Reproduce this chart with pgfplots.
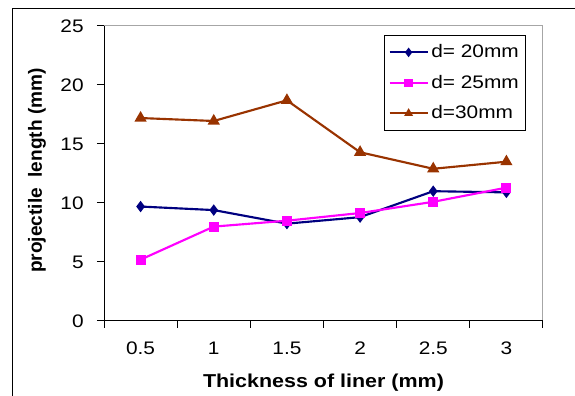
\documentclass[border=0pt]{standalone}
\usepackage{pgfplots}
\pgfplotsset{compat=1.18}
\usepackage{fontspec}
\setmainfont{Liberation Sans}[FakeStretch=1.15]
\newfontfamily\yfont{Liberation Sans}
\definecolor{c20}{RGB}{0,0,128}
\definecolor{c25}{RGB}{255,0,255}
\definecolor{c30}{RGB}{153,51,0}
\begin{document}
\begin{tikzpicture}
\begin{axis}[
  at={(78pt,56.25pt)}, anchor=south west,
  scale only axis, width=329.25pt, height=221.25pt,
  xmin=0, xmax=6, ymin=0, ymax=25,
  xtick={0.5,1.5,2.5,3.5,4.5,5.5},
  xticklabels={0.5,1,1.5,2,2.5,3},
  minor xtick={0,1,2,3,4,5,6},
  ytick={0,5,10,15,20,25},
  xtick pos=bottom, ytick pos=left,
  tick align=outside,
  major tick length=5.25pt, minor tick length=5.25pt,
  major x tick style={draw=none},
  tick style={black, line width=0.75pt},
  axis line style={draw=gray!70, line width=0.75pt},
  /pgf/number format/assume math mode=true,
  font=\fontsize{13.6}{16}\selectfont,
  xticklabel style={yshift=-7pt},
  yticklabel style={xshift=-6.5pt},
  xlabel={\bfseries Thickness of liner (mm)},
  ylabel={\yfont\bfseries projectile\ \ length (mm)},
  xlabel style={at={(axis description cs:0.5,-0.227)}, anchor=base, font=\fontsize{14}{16}\selectfont},
  ylabel style={at={(axis description cs:-0.1526,0.51)}, anchor=center, font=\fontsize{14.3}{16}\selectfont},
  legend style={at={(axis description cs:0.638,0.9695)}, anchor=north west, draw=black, line width=0.75pt, font=\fontsize{13.6}{16}\selectfont, row sep=7.5pt, inner sep=3pt, inner ysep=5pt},
  legend cell align=left,
  legend image code/.code={\draw[mark repeat=2,mark phase=2,#1] plot coordinates {(0cm,0cm) (0.5cm,0cm) (1cm,0cm)};},
  legend image post style={mark size=2.3pt},
  every axis plot/.append style={line width=1.6pt},
  clip=false,
]
\addplot[c20, mark=diamond*, mark size=3pt, mark options={solid}] coordinates {(0.5,9.7) (1.5,9.4) (2.5,8.25) (3.5,8.8) (4.5,11.0) (5.5,10.9)};
\addlegendentry{d= 20mm}
\addplot[c25, mark=square*, mark size=3pt] coordinates {(0.5,5.2) (1.5,8.0) (2.5,8.5) (3.5,9.15) (4.5,10.1) (5.5,11.3)};
\addlegendentry{d= 25mm}
\addplot[c30, mark=triangle*, mark size=3.7pt] coordinates {(0.5,17.2) (1.5,16.95) (2.5,18.7) (3.5,14.3) (4.5,12.9) (5.5,13.5)};
\addlegendentry{d=30mm}
\draw[black, line width=0.75pt] (rel axis cs:0,1) -- (rel axis cs:0,0) -- (rel axis cs:1,0);
\end{axis}
\draw[black, line width=0.75pt] (9pt,-10pt) -- (9pt,290.25pt) -- (450pt,290.25pt);
\pgfresetboundingbox
\path (0,0) rectangle (431.25pt,297pt);
\end{tikzpicture}
\end{document}
